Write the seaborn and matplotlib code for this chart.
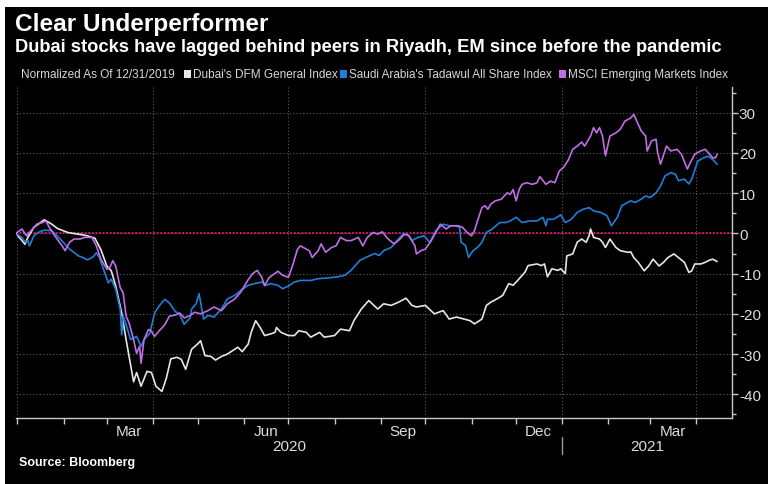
import pandas as pd
import matplotlib
matplotlib.use("Agg")
import matplotlib.pyplot as plt
import matplotlib.dates as mdates
import matplotlib.transforms as mtransforms
from matplotlib.patches import Rectangle
from matplotlib.ticker import MultipleLocator, NullFormatter
import seaborn as sns

# Base date: everything normalized as of 12/31/2019
START = pd.Timestamp("2019-12-31")
END = pd.Timestamp("2021-04-25")

# Days since 12/31/2019 and % change
DFM_DAYS = [0, 6, 8, 12, 19, 24, 28, 35, 42, 48, 53, 57, 61, 64, 67, 71, 74, 76, 79, 81,
            84, 88, 91, 94, 98, 101, 104, 108, 111, 114, 118, 122, 124, 127, 131, 134, 138,
            142, 147, 149, 152, 156, 158, 161, 164, 167, 171, 174, 175, 178, 183, 187, 190,
            195, 198, 204, 207, 214, 218, 224, 227, 232, 237, 243, 247, 252, 257, 262, 266,
            269, 275, 281, 287, 291, 296, 301, 305, 308, 313, 316, 319, 324, 327, 331, 334,
            337, 342, 344, 350, 353, 355, 357, 360, 364, 366, 369, 370, 374, 377, 380, 383,
            385, 386, 388, 392, 394, 396, 399, 403, 406, 411, 413, 415, 418, 422, 425, 428,
            432, 435, 438, 442, 445, 449, 452, 454, 456, 460, 463, 465, 468, 471]
DFM_VALUES = [0, -2.7, -1.0, 1.5, 3.4, 2.3, 1.2, 0.2, -0.2, -0.6, -1.2, -4.0, -8.1, -9.3,
              -13.1, -19.8, -26.5, -30.6, -36.9, -34.6, -38.0, -34.3, -34.6, -38.0, -39.3,
              -36.0, -31.2, -30.8, -31.3, -33.8, -28.8, -27.5, -26.7, -30.4, -30.6, -31.5,
              -30.6, -30.0, -28.8, -28.3, -29.4, -27.5, -24.6, -21.7, -23.4, -25.4, -25.0,
              -24.6, -23.4, -24.6, -25.4, -25.4, -24.2, -24.6, -25.8, -24.6, -25.8, -25.4,
              -23.8, -24.2, -21.7, -18.8, -16.7, -18.8, -17.5, -17.9, -17.1, -16.1, -17.9,
              -18.3, -17.9, -20.0, -19.2, -21.3, -20.8, -21.3, -21.7, -22.5, -21.3, -17.9,
              -17.1, -16.1, -15.4, -12.5, -12.9, -11.7, -9.6, -8.0, -7.6, -8.0, -7.6, -10.8,
              -8.8, -9.2, -8.8, -10.0, -5.6, -5.1, -2.2, -1.4, -2.2, -0.6, 1.1, -1.0, -1.4,
              -2.2, -3.5, -1.4, -3.5, -4.3, -4.7, -4.6, -6.0, -7.2, -9.3, -8.1, -6.4, -8.1,
              -7.2, -6.0, -5.1, -6.0, -7.2, -9.7, -9.3, -7.6, -7.6, -7.2, -6.8, -6.4, -7.0]

TASI_DAYS = [0, 4, 6, 8, 9, 12, 15, 19, 24, 27, 32, 36, 42, 45, 48, 52, 54, 56, 58, 62, 64,
             67, 70, 71, 72, 74, 77, 81, 84, 86, 90, 93, 96, 100, 103, 107, 110, 113, 117,
             118, 121, 123, 126, 129, 133, 138, 142, 147, 151, 156, 160, 165, 168, 171, 176,
             179, 183, 187, 191, 198, 203, 209, 216, 221, 225, 231, 236, 241, 244, 247, 252,
             256, 260, 263, 266, 270, 274, 278, 282, 287, 291, 295, 298, 299, 302, 304, 307,
             310, 313, 316, 320, 325, 329, 332, 336, 340, 345, 350, 354, 356, 357, 361, 366,
             369, 373, 377, 381, 385, 388, 393, 397, 400, 404, 407, 413, 416, 420, 423, 426,
             430, 433, 436, 440, 443, 445, 449, 452, 454, 458, 462, 465, 468, 471]
TASI_VALUES = [0, -1.0, -2.1, -1.8, -3.1, -0.6, 0.25, 0.8, 0.7, -0.4, -2.3, -3.9, -5.6, -6.0,
               -6.6, -5.8, -4.8, -6.0, -8.1, -12.3, -11.4, -13.9, -18.9, -25.2, -20.6, -22.7,
               -26.4, -25.6, -28.1, -26.4, -24.8, -19.9, -18.1, -16.4, -17.3, -19.4, -20.2,
               -22.6, -21.0, -18.8, -17.5, -15.0, -21.3, -20.4, -20.8, -18.8, -16.3, -15.4,
               -14.2, -12.9, -12.5, -12.1, -12.9, -12.5, -12.9, -13.75, -13.1, -12.1, -11.7,
               -11.7, -11.25, -11.1, -10.8, -10.4, -9.2, -6.7, -5.8, -5.0, -5.5, -4.3, -3.5,
               -1.8, -0.2, -0.2, -1.8, -1.0, -0.6, -2.2, 0.65, 2.3, 1.9, 1.9, 1.5, -2.2, -3.0,
               -6.0, -4.3, -3.5, -2.2, 0.25, 1.1, 2.7, 2.7, 3.1, 4.0, 2.7, 3.1, 3.1, 4.0, 1.9,
               3.5, 3.5, 4.6, 2.7, 3.5, 5.2, 6.0, 6.4, 5.6, 5.2, 4.4, 1.9, 4.0, 6.9, 8.1, 7.7,
               8.5, 9.3, 8.9, 10.1, 11.8, 14.3, 15.1, 14.7, 13.1, 13.5, 12.3, 13.5, 18.0, 18.8,
               19.2, 18.4, 17.2]

MSCI_DAYS = [0, 4, 7, 10, 14, 17, 20, 23, 26, 31, 33, 36, 39, 43, 46, 51, 54, 57, 61, 63, 65,
             67, 70, 72, 74, 76, 79, 81, 83, 84, 86, 89, 91, 93, 96, 100, 103, 107, 110, 113,
             117, 120, 124, 129, 133, 138, 142, 147, 151, 156, 159, 162, 165, 167, 170, 176,
             179, 183, 186, 189, 191, 195, 197, 199, 203, 205, 208, 212, 215, 218, 222, 225,
             230, 233, 236, 240, 243, 246, 250, 254, 258, 261, 264, 268, 269, 272, 275, 279,
             282, 285, 289, 292, 297, 300, 303, 306, 308, 310, 313, 315, 317, 319, 322, 326,
             328, 330, 332, 334, 336, 338, 340, 343, 347, 350, 352, 356, 359, 362, 365, 368,
             371, 374, 377, 380, 382, 386, 388, 390, 392, 394, 396, 399, 403, 406, 409, 413,
             415, 417, 420, 423, 424, 427, 430, 431, 433, 437, 440, 444, 447, 451, 453, 456,
             460, 463, 465, 468, 470, 471]
MSCI_VALUES = [0, 1.1, -0.6, 0.65, 2.3, 2.6, 3.1, 1.1, -0.6, -3.1, -4.3, -2.2, -1.4, -1.4,
               -1.0, -1.0, -3.1, -6.4, -8.9, -8.5, -6.8, -8.1, -13.5, -14.8, -20.6, -22.3,
               -26.4, -29.8, -28.1, -32.3, -26.4, -23.9, -24.3, -25.6, -24.3, -22.7, -20.6,
               -20.3, -19.8, -21.0, -20.4, -19.6, -20.0, -19.2, -18.3, -19.2, -17.5, -16.3,
               -14.6, -11.5, -10.0, -9.2, -10.8, -13.0, -11.0, -9.4, -10.4, -10.9, -7.8, -4.0,
               -3.1, -3.9, -4.3, -6.0, -4.3, -2.6, -4.7, -3.5, -3.1, -1.0, -1.8, -1.8, -1.0,
               -3.1, -1.0, 0.25, -0.2, 0.4, -1.4, -2.6, -1.4, -0.2, -0.6, -3.1, -5.1, -4.3,
               -3.9, -1.8, 0.25, 2.3, 1.1, 1.9, 1.9, 1.5, 0.25, -0.6, 0.65, 3.1, 6.4, 6.9, 6.0,
               7.3, 8.1, 8.5, 9.3, 10.1, 9.7, 10.9, 8.1, 10.9, 12.2, 12.6, 12.2, 12.6, 14.1,
               12.2, 13.0, 12.6, 15.5, 16.5, 18.2, 20.9, 21.7, 22.7, 21.7, 24.2, 26.3, 25.0,
               26.3, 24.2, 19.3, 24.2, 25.0, 25.9, 27.9, 28.7, 29.6, 27.9, 25.5, 24.2, 20.5,
               23.0, 23.4, 20.1, 17.2, 21.7, 20.5, 20.9, 19.7, 16.0, 17.6, 19.7, 20.5, 20.9,
               20.1, 18.8, 18.8, 19.7]

SERIES = ["Dubai's DFM General Index",
          "Saudi Arabia's Tadawul All Share Index",
          "MSCI Emerging Markets Index"]
PALETTE = {
    SERIES[0]: "#e6e6e6",
    SERIES[1]: "#1f7fd6",
    SERIES[2]: "#c06ee6",
}
Y_TICKS = [-40, -30, -20, -10, 0, 10, 20, 30]

TEXT_FONT = ["Liberation Sans", "DejaVu Sans"]
BOLD_FONT = ["Liberation Sans", "DejaVu Sans"]


def build_frame():
    parts = []
    for name, days, vals in zip(SERIES, [DFM_DAYS, TASI_DAYS, MSCI_DAYS],
                                [DFM_VALUES, TASI_VALUES, MSCI_VALUES]):
        parts.append(pd.DataFrame({
            "Date": START + pd.to_timedelta(days, unit="D"),
            "Value": vals,
            "Index": name,
        }))
    return pd.concat(parts, ignore_index=True)


def plot(df):
    sns.set_theme(style="dark")
    plt.rcParams["font.family"] = TEXT_FONT
    plt.rcParams["axes.unicode_minus"] = False

    W, H = 768, 485
    fig = plt.figure(figsize=(W / 100, H / 100), dpi=100, facecolor="white")
    # black panel with thin white margin on top/left
    fig.patches.append(Rectangle((5 / W, 0), 1, 1 - 8 / H, transform=fig.transFigure,
                                 facecolor="black", edgecolor="none", zorder=-10))

    ax = fig.add_axes([16 / W, 1 - 419 / H, (732 - 16) / W, (419 - 88) / H])
    ax.set_facecolor("black")
    ax.set_zorder(1)

    sns.lineplot(data=df, x="Date", y="Value", hue="Index", hue_order=SERIES,
                 palette=PALETTE, estimator=None, sort=True, linewidth=1.2,
                 legend=False, ax=ax, zorder=3)

    ax.set_xlim(START, END)
    ax.set_ylim(-45.9, 36.4)
    ax.set_xlabel("")
    ax.set_ylabel("")

    # grid
    grid_kw = dict(color="#5e5e5e", linestyle=(0, (1, 2)), linewidth=0.8, zorder=1)
    for y in Y_TICKS:
        ax.axhline(y, **grid_kw)
    for d in pd.date_range(START, END, freq="QS"):
        ax.axvline(d, **grid_kw)
    ax.axhline(0, color="#e8127f", linestyle=(0, (1, 1)), linewidth=1.3, zorder=2)

    # spines
    for side in ["top", "left"]:
        ax.spines[side].set_visible(False)
    for side in ["right", "bottom"]:
        ax.spines[side].set_visible(True)
        ax.spines[side].set_color("#c8c8c8")
        ax.spines[side].set_linewidth(1.0)

    # y axis on the right
    ax.yaxis.tick_right()
    ax.set_yticks(Y_TICKS)
    ax.yaxis.set_minor_locator(MultipleLocator(5))
    ax.tick_params(axis="y", which="both", direction="out", color="#c8c8c8",
                   labelcolor="#dcdcdc", labelsize=11, pad=1, right=True, left=False)
    ax.tick_params(axis="y", which="major", length=4, width=1)
    ax.tick_params(axis="y", which="minor", length=3, width=1)

    # x axis: month ticks, quarter month labels
    ax.xaxis.set_major_locator(mdates.MonthLocator())
    ax.xaxis.set_major_formatter(NullFormatter())
    ax.xaxis.set_minor_locator(mdates.MonthLocator(bymonth=[3, 6, 9, 12], bymonthday=16))
    ax.xaxis.set_minor_formatter(mdates.DateFormatter("%b"))
    ax.tick_params(axis="x", which="major", direction="out", length=4, width=1,
                   color="#c8c8c8", bottom=True)
    ax.tick_params(axis="x", which="minor", length=0, labelcolor="#dcdcdc",
                   labelsize=11, pad=4)

    # year labels centred on the visible part of each year
    trans = mtransforms.blended_transform_factory(ax.transData, ax.transAxes)
    for year in [2020, 2021]:
        y0 = max(pd.Timestamp(f"{year}-01-01"), START)
        y1 = min(pd.Timestamp(f"{year}-12-31"), END)
        mid = y0 + (y1 - y0) / 2
        ax.text(mid, -0.085, str(year), transform=trans, ha="center", va="center",
                color="#dcdcdc", fontsize=11)
    ax.plot([pd.Timestamp("2021-01-01")] * 2, [-0.057, -0.109], transform=trans,
            color="#9a9a9a", linewidth=1, clip_on=False)

    # titles
    fig.text(15 / W, 1 - 24 / H, "Clear Underperformer", color="white", fontsize=17.6,
             fontweight="bold", family=BOLD_FONT, va="center", ha="left")
    fig.text(15 / W, 1 - 48 / H, "Dubai stocks have lagged behind peers in Riyadh, EM "
             "since before the pandemic", color="white", fontsize=13.2, fontweight="bold",
             family=BOLD_FONT, va="center", ha="left")

    # legend row
    ly = 1 - 75 / H
    fig.text(21 / W, ly, "Normalized As Of 12/31/2019", color="#d8d8d8", fontsize=8.5,
             va="center", ha="left")
    for name, sx in zip(SERIES, [184, 340, 559]):
        fig.patches.append(Rectangle((sx / W, ly - 4 / H), 7 / W, 8 / H,
                                     transform=fig.transFigure, facecolor=PALETTE[name],
                                     edgecolor="none"))
        fig.text((sx + 9) / W, ly, name, color="#d8d8d8", fontsize=8.5,
                 va="center", ha="left")

    fig.text(19 / W, 1 - 463 / H, "Source: Bloomberg", color="white", fontsize=9,
             fontweight="bold", family=BOLD_FONT, va="center", ha="left")

    fig.savefig("out.png", dpi=100, facecolor="white")
    plt.close(fig)


def main():
    df = build_frame()
    plot(df)


if __name__ == "__main__":
    main()
